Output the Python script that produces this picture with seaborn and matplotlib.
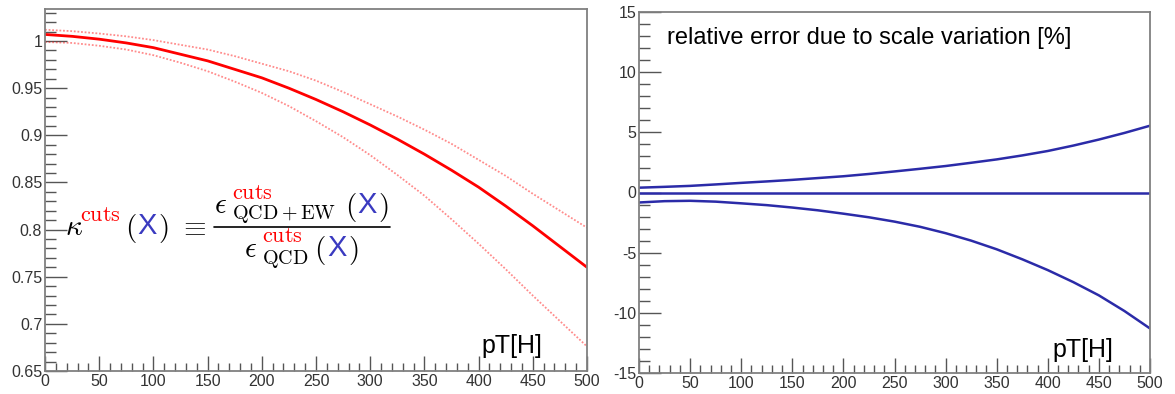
import matplotlib
matplotlib.use("Agg")
import matplotlib.pyplot as plt
import seaborn as sns
import pandas as pd
from matplotlib.ticker import MultipleLocator, FuncFormatter
from matplotlib.lines import Line2D

# ---------------- data ----------------
pt = [0, 25, 50, 75, 100, 125, 150, 175, 200, 225, 250,
      275, 300, 325, 350, 375, 400, 425, 450, 475, 500]
kappa_central = [1.007, 1.005, 1.002, 0.998, 0.993, 0.986, 0.979, 0.970, 0.961, 0.950, 0.938,
                 0.925, 0.911, 0.896, 0.880, 0.863, 0.845, 0.825, 0.804, 0.782, 0.760]
kappa_up = [1.012, 1.0105, 1.008, 1.005, 1.001, 0.996, 0.991, 0.984, 0.976, 0.968, 0.958,
            0.946, 0.933, 0.920, 0.906, 0.891, 0.874, 0.857, 0.838, 0.820, 0.802]
kappa_down = [0.999, 0.998, 0.995, 0.991, 0.985, 0.977, 0.968, 0.957, 0.945, 0.931, 0.915,
              0.898, 0.879, 0.858, 0.836, 0.811, 0.785, 0.758, 0.730, 0.703, 0.676]
err_up = [0.4, 0.47, 0.55, 0.67, 0.8, 0.92, 1.05, 1.2, 1.35, 1.54, 1.75,
          1.97, 2.2, 2.47, 2.75, 3.08, 3.45, 3.9, 4.4, 4.95, 5.55]
err_central = [0] * 21
err_down = [-0.83, -0.72, -0.69, -0.76, -0.9, -1.05, -1.25, -1.48, -1.76, -2.06, -2.42,
            -2.85, -3.38, -4.0, -4.72, -5.55, -6.45, -7.45, -8.55, -9.85, -11.3]

left_yticks = [0.65, 0.7, 0.75, 0.8, 0.85, 0.9, 0.95, 1.0]
right_yticks = [-15, -10, -5, 0, 5, 10, 15]
xticks = [0, 50, 100, 150, 200, 250, 300, 350, 400, 450, 500]
title_right = "relative error due to scale variation [%]"
xlabel = "pT[H]"

# ---------------- style ----------------
sns.set_style("white")
plt.rcParams["font.family"] = ["Liberation Sans", "DejaVu Sans"]
plt.rcParams["mathtext.fontset"] = "cm"

W, H = 1175, 394
fig = plt.figure(figsize=(W / 100, H / 100), dpi=100)

def axes_px(x0, y0, x1, y1):
    return fig.add_axes([x0 / W, 1 - y1 / H, (x1 - x0) / W, (y1 - y0) / H])

axL = axes_px(45, 9, 587, 371)
axR = axes_px(639, 12, 1150, 373)

df = pd.DataFrame({"pt": pt, "c": kappa_central, "u": kappa_up, "d": kappa_down,
                   "eu": err_up, "ec": err_central, "ed": err_down})

red = "#ff0000"
blue = "#2b2ba8"
sns.lineplot(data=df, x="pt", y="u", ax=axL, color=red, lw=1.3, alpha=0.45,
             linestyle=(0, (1, 1)))
sns.lineplot(data=df, x="pt", y="d", ax=axL, color=red, lw=1.3, alpha=0.45,
             linestyle=(0, (1, 1)))
sns.lineplot(data=df, x="pt", y="c", ax=axL, color=red, lw=2.0)

for col in ["eu", "ec", "ed"]:
    sns.lineplot(data=df, x="pt", y=col, ax=axR, color=blue, lw=1.8)

fmt = FuncFormatter(lambda v, p: "%g" % round(v, 3))
for ax, ylim, yt, ymin in [(axL, (0.65, 1.034), left_yticks, 0.01),
                           (axR, (-15, 15), right_yticks, 1)]:
    ax.set_xlim(0, 500)
    ax.set_ylim(*ylim)
    ax.set_xticks(xticks)
    ax.set_yticks(yt)
    ax.xaxis.set_minor_locator(MultipleLocator(10))
    ax.yaxis.set_minor_locator(MultipleLocator(ymin))
    ax.yaxis.set_major_formatter(fmt)
    ax.set_xlabel("")
    ax.set_ylabel("")
    for s in ax.spines.values():
        s.set_color("#808080")
        s.set_linewidth(1.3)
    ax.tick_params(axis="both", which="both", direction="in", colors="#555555",
                   labelcolor="#333333", labelsize=11.5, width=1.0,
                   bottom=True, left=True, top=False, right=False)
    ax.tick_params(axis="x", which="major", length=11, pad=2)
    ax.tick_params(axis="x", which="minor", length=6)
    ax.tick_params(axis="y", which="major", length=16, pad=2)
    ax.tick_params(axis="y", which="minor", length=8)

# ---------------- text ----------------
def T(x, y, s, size, color="black", **kw):
    fig.text(x / W, 1 - y / H, s, fontsize=size, color=color, ha="left",
             va="baseline", **kw)

T(481, 353, xlabel, 18)
T(1052, 357, xlabel, 18)
T(667, 44, title_right, 17)

xblue = "#3a3ac0"
# left side: kappa^cuts(X)
T(65, 235, r"$\kappa$", 21)
T(80, 221, r"$\mathrm{cuts}$", 16, red)
T(125, 236, r"$($", 21)
T(137, 234, "X", 21, xblue)
T(158, 236, r"$)$", 21)
T(178, 235, r"$\equiv$", 21)
# numerator
T(214, 213, r"$\epsilon$", 21)
T(232, 199, r"$\mathrm{cuts}$", 16, red)
T(232, 219, r"$\mathrm{QCD+EW}$", 14.5)
T(345, 215, r"$($", 21)
T(357, 213, "X", 21, xblue)
T(378, 215, r"$)$", 21)
# fraction bar
fig.add_artist(Line2D([214 / W, 390 / W], [1 - 227 / H, 1 - 227 / H],
                      color="black", lw=1.2, transform=fig.transFigure))
# denominator
T(244, 257, r"$\epsilon$", 21)
T(262, 242, r"$\mathrm{cuts}$", 16, red)
T(262, 264, r"$\mathrm{QCD}$", 14.5)
T(314, 258, r"$($", 21)
T(327, 256, "X", 21, xblue)
T(348, 258, r"$)$", 21)

fig.savefig("out.png", dpi=100)
